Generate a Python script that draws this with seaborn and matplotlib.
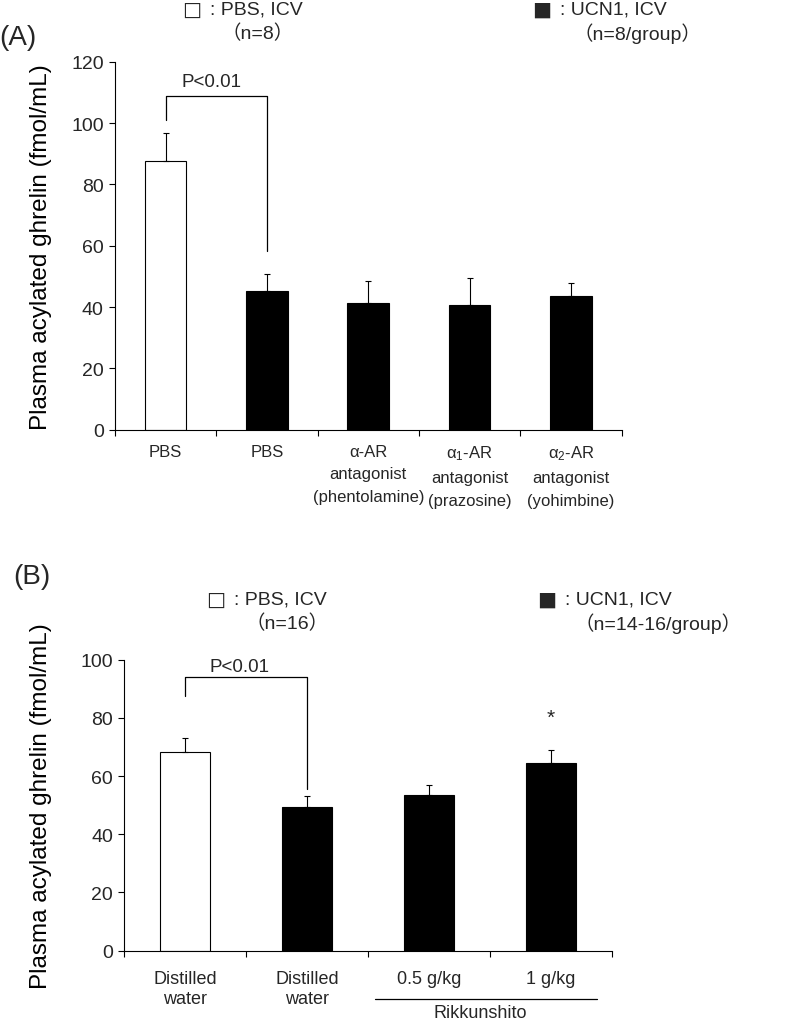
import matplotlib
matplotlib.use('Agg')
import matplotlib.pyplot as plt
import numpy as np
import pandas as pd
import seaborn as sns

sns.set_theme(style='white')
plt.rcParams['font.family'] = ['Liberation Sans', 'Noto Sans CJK JP', 'DejaVu Sans']
plt.rcParams['mathtext.fontset'] = 'custom'
plt.rcParams['mathtext.rm'] = 'Liberation Sans'
plt.rcParams['mathtext.it'] = 'Liberation Sans:italic'

# panel A data
a_groups = ['pbs_pbs', 'ucn1_pbs', 'ucn1_phentolamine', 'ucn1_prazosine', 'ucn1_yohimbine']
a_treat = ['PBS', 'UCN1', 'UCN1', 'UCN1', 'UCN1']
a_mean = [87.7, 45.1, 41.3, 40.6, 43.6]
a_sem = [9.0, 5.7, 7.3, 8.8, 4.3]
a_labels = ['PBS', 'PBS', 'α-AR\nantagonist\n(phentolamine)',
            'α$_1$-AR\nantagonist\n(prazosine)', 'α$_2$-AR\nantagonist\n(yohimbine)']

# panel B data
b_groups = ['pbs_dw', 'ucn1_dw', 'ucn1_rkt05', 'ucn1_rkt1']
b_treat = ['PBS', 'UCN1', 'UCN1', 'UCN1']
b_mean = [68.2, 49.5, 53.6, 64.4]
b_sem = [5.0, 3.8, 3.2, 4.7]
b_labels = ['Distilled\nwater', 'Distilled\nwater', '0.5 g/kg', '1 g/kg']

# significance brackets: (left bottom, top, right bottom)
a_bracket = (101.0, 108.7, 58.4)
b_bracket = (87.6, 93.9, 55.7)

colors = {'PBS': 'white', 'UCN1': 'black'}


def draw_panel(ax, groups, treat, mean, sem, labels, ymax, ystep):
    df = pd.DataFrame({'group': groups, 'treatment': treat, 'mean': mean})
    sns.barplot(data=df, x='group', y='mean', hue='treatment', order=groups,
                palette=colors, dodge=False, width=0.41, edgecolor='black',
                linewidth=0.8, errorbar=None, legend=False, ax=ax)
    n = len(groups)
    x = np.arange(n)
    ax.errorbar(x, mean, yerr=[np.zeros(n), sem], fmt='none', ecolor='black',
                elinewidth=0.8, capsize=2, capthick=0.8, zorder=5)
    ax.set_xlim(-0.5, n - 0.5)
    ax.set_ylim(0, ymax)
    ax.set_yticks(np.arange(0, ymax + 1, ystep))
    ax.set_xticks(np.arange(n + 1) - 0.5)
    ax.set_xticklabels([])
    ax.set_xticks(x, minor=True)
    ax.set_xticklabels(labels, minor=True)
    ax.tick_params(axis='x', which='major', direction='out', length=4, width=0.8,
                   color='black', bottom=True)
    ax.tick_params(axis='x', which='minor', length=0, pad=10)
    ax.tick_params(axis='y', direction='out', length=4, width=0.8, color='black',
                   left=True, labelsize=14, pad=4)
    for lbl in ax.get_xticklabels(minor=True):
        lbl.set_fontsize(12)
        lbl.set_linespacing(1.65)
    sns.despine(ax=ax)
    for s in ('left', 'bottom'):
        ax.spines[s].set_color('black')
        ax.spines[s].set_linewidth(0.8)
    ax.set_xlabel('')
    ax.set_ylabel('Plasma acylated ghrelin (fmol/mL)', fontsize=17.5, color='black')


fig = plt.figure(figsize=(7.94, 10.2), dpi=100)

axA = fig.add_axes([0.1448, 0.5777, 0.638, 0.3608])
draw_panel(axA, a_groups, a_treat, a_mean, a_sem, a_labels, 120, 20)
axA.yaxis.set_label_coords(-0.125, 0.5)
l, t, r = a_bracket
axA.plot([0, 0, 1, 1], [l, t, t, r], color='black', lw=0.9)
axA.text(0.45, 113.5, 'P<0.01', ha='center', va='center', fontsize=13.5)

axB = fig.add_axes([0.1562, 0.0670, 0.6142, 0.2853])
draw_panel(axB, b_groups, b_treat, b_mean, b_sem, b_labels, 100, 20)
axB.yaxis.set_label_coords(-0.148, 0.5)
axB.tick_params(axis='x', which='minor', pad=14)
for lbl in axB.get_xticklabels(minor=True):
    lbl.set_fontsize(13)
    lbl.set_linespacing(1.2)
l, t, r = b_bracket
axB.plot([0, 0, 1, 1], [l, t, t, r], color='black', lw=0.9)
axB.text(0.45, 97.5, 'P<0.01', ha='center', va='center', fontsize=13.5)
axB.text(3, b_mean[3] + b_sem[3] + 11, '*', ha='center', va='center', fontsize=15)
# Rikkunshito rule and label under the last two groups
axB.plot([1.56, 3.38], [-0.166, -0.166], transform=axB.get_xaxis_transform(),
         clip_on=False, color='black', lw=0.9)
axB.text(2.42, -0.212, 'Rikkunshito', transform=axB.get_xaxis_transform(),
         ha='center', va='center', fontsize=13)

# panel labels and legend texts (figure pixels converted to fractions)
W, H = 794, 1020


def ftext(x, y, s, **kw):
    fig.text(x / W, 1 - y / H, s, **kw)


def legend_item(x, y, filled, label, note, note_x):
    ftext(x, y, '■' if filled else '□', ha='left', va='center', fontsize=14.5,
          family=['DejaVu Sans'])
    ftext(x + 28, y, ': ' + label, ha='left', va='center', fontsize=14)
    ftext(note_x, y + 24, note, ha='center', va='center', fontsize=14)


ftext(18, 38, '(A)', ha='center', va='center', fontsize=20)
legend_item(182, 10, False, 'PBS, ICV', '（n=8）', 258)
legend_item(532, 10, True, 'UCN1, ICV', '（n=8/group）', 637)

ftext(32, 577, '(B)', ha='center', va='center', fontsize=20)
legend_item(206, 600, False, 'PBS, ICV', '（n=16）', 287)
legend_item(537, 600, True, 'UCN1, ICV', '（n=14-16/group）', 658)

fig.savefig('out.png', dpi=100)
